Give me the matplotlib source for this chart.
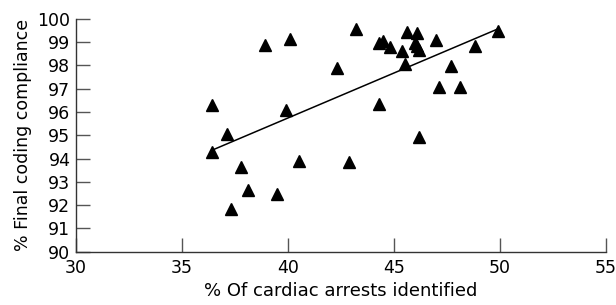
import numpy as np
import matplotlib
matplotlib.use("Agg")
import matplotlib.pyplot as plt

# % of cardiac arrests identified vs % final coding compliance
pct_identified = [36.4, 37.1, 38.9, 40.1, 39.9, 42.3, 43.2, 44.3, 44.5, 44.8,
                  45.4, 45.6, 46.1, 46.0, 46.1, 46.2, 47.0, 45.5, 48.8, 49.9,
                  47.7, 47.1, 48.1, 44.3, 46.2, 42.9, 36.4, 37.8, 40.5, 38.1,
                  39.5, 37.3]
pct_compliance = [96.3, 95.05, 98.87, 99.13, 96.1, 97.87, 99.55, 98.94, 99.05, 98.8,
                  98.6, 99.42, 99.37, 98.97, 98.83, 98.65, 99.09, 98.04, 98.84, 99.47,
                  97.97, 97.08, 97.08, 96.34, 94.94, 93.86, 94.27, 93.65, 93.91, 92.65,
                  92.46, 91.82]

# regression line as drawn in the figure (intercept, slope)
fit_intercept = 80.3
fit_slope = 0.386

x_ticks = [30, 35, 40, 45, 50, 55]
y_ticks = list(range(90, 101))

fig = plt.figure(figsize=(6.16, 3.05), dpi=100)
ax = fig.add_axes([0.1234, 0.1747, 0.8604, 0.764])

ax.plot(pct_identified, pct_compliance, linestyle="none", marker="^",
        markersize=8.8, color="black")

xs = np.array([min(pct_identified), max(pct_identified)])
ax.plot(xs, fit_intercept + fit_slope * xs, color="black", linewidth=1.1)

ax.set_xlim(30, 55)
ax.set_ylim(90, 100)
ax.set_xticks(x_ticks)
ax.set_yticks(y_ticks)
ax.spines["top"].set_visible(False)
ax.spines["right"].set_visible(False)
for s in ("left", "bottom"):
    ax.spines[s].set_color("#333333")
    ax.spines[s].set_linewidth(1.0)
ax.tick_params(direction="in", length=10, width=1.0, color="#555555",
               labelsize=12.5)
ax.tick_params(axis="y", pad=4)
ax.tick_params(axis="x", pad=5)
ax.set_xlabel("% Of cardiac arrests identified", fontsize=13, labelpad=4)
ax.set_ylabel("% Final coding compliance", fontsize=12.5, labelpad=4)

fig.savefig("out.png", dpi=100)
